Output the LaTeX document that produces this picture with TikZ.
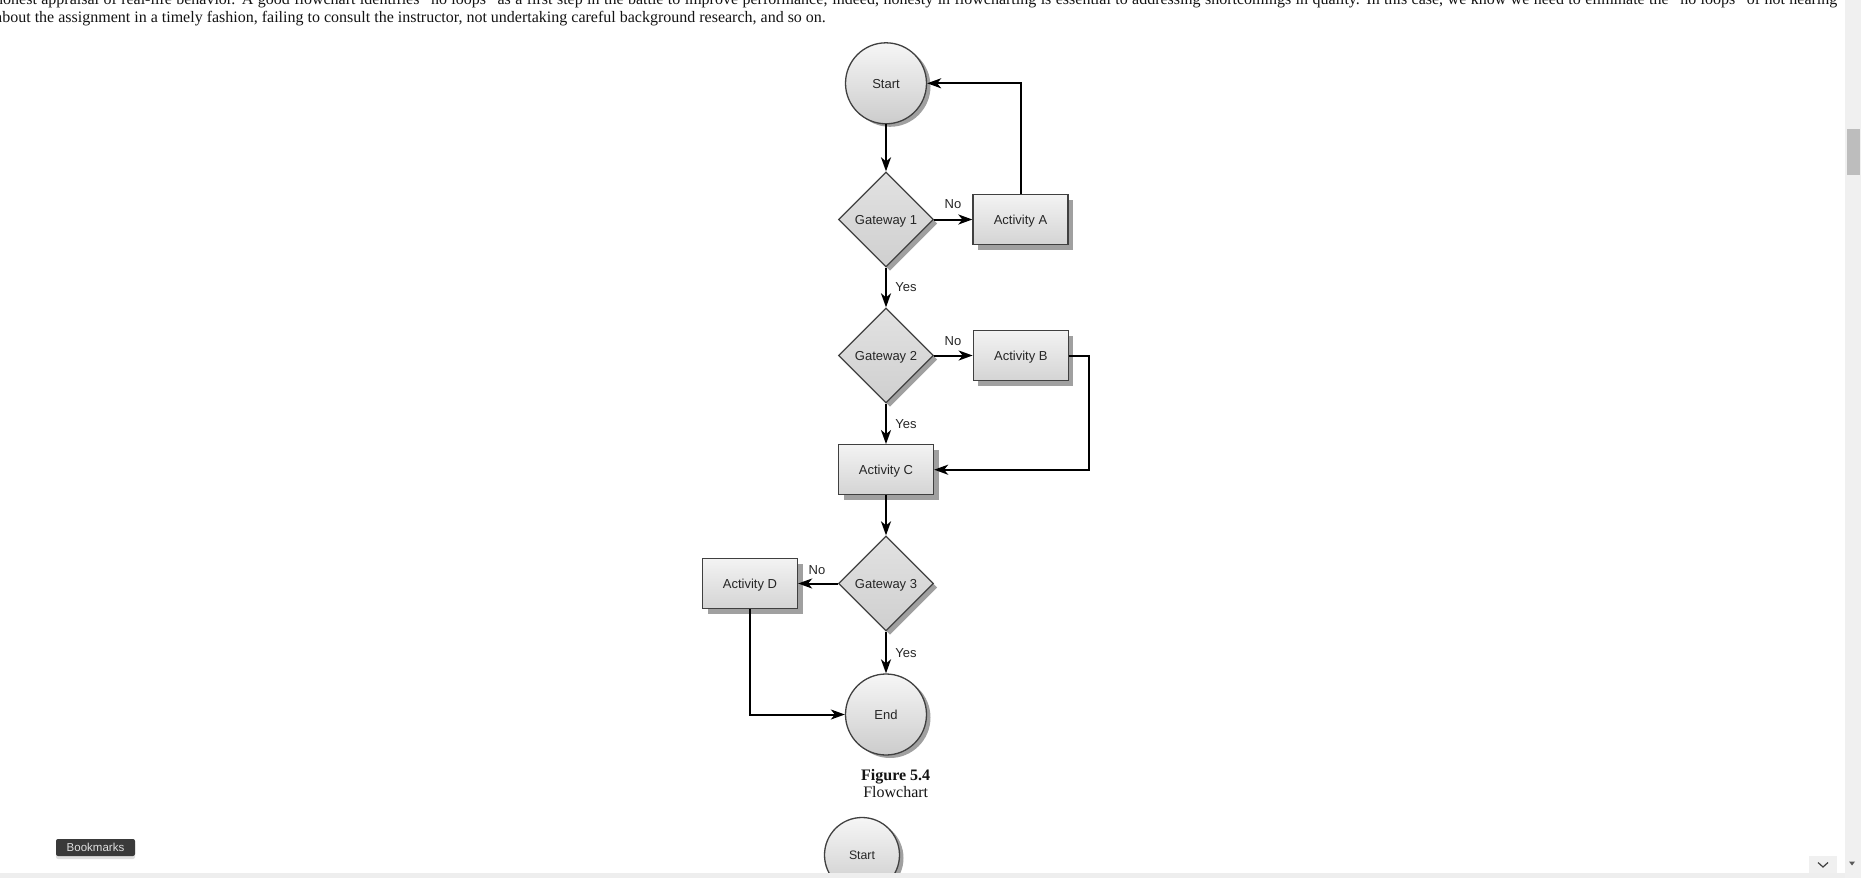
\documentclass[tikz,border=0pt]{standalone}
\usepackage{fontspec}
\setmainfont{Liberation Serif}
\newfontfamily\arialf{Liberation Sans}
\usetikzlibrary{shapes.geometric,shadows,arrows.meta}
\definecolor{ink}{HTML}{262626}
\definecolor{edgecol}{HTML}{404040}
\definecolor{shadecol}{HTML}{A0A0A0}
\definecolor{boxtop}{HTML}{F3F3F3}
\definecolor{boxbot}{HTML}{D4D4D4}
\definecolor{circtop}{HTML}{F6F6F6}
\definecolor{circbot}{HTML}{CCCCCC}
\definecolor{diatop}{HTML}{E2E2E2}
\definecolor{diabot}{HTML}{CFCFCF}
\definecolor{trackcol}{HTML}{F0F0F0}
\definecolor{thumbcol}{HTML}{BDBDBD}
\definecolor{btncol}{HTML}{3A3A3A}
\definecolor{barcol}{HTML}{EEEEEE}
\tikzset{
  dtext/.style={font=\arialf\fontsize{13}{15}\selectfont, text=ink, text height=9.4pt, text depth=0pt},
  terminal/.style={circle, draw=edgecol, line width=1.3pt, minimum size=81pt, inner sep=0pt,
    top color=circtop, bottom color=circbot,
    drop shadow={shadow xshift=4pt, shadow yshift=-3pt, fill=shadecol, opacity=1}, dtext},
  gateway/.style={diamond, aspect=1, draw=edgecol, line width=1.3pt, minimum width=95pt,
    minimum height=95pt, inner sep=0pt, top color=diatop, bottom color=diabot,
    drop shadow={shadow xshift=4pt, shadow yshift=-4pt, fill=shadecol, opacity=1}, dtext},
  activity/.style={rectangle, draw=edgecol, line width=1.3pt, minimum width=95pt, minimum height=50pt,
    inner sep=0pt, top color=boxtop, bottom color=boxbot,
    drop shadow={shadow xshift=5pt, shadow yshift=-5pt, fill=shadecol, opacity=1}, dtext},
  flow/.style={draw=black, line width=2pt, -{Stealth[length=14pt,width=10pt,inset=4pt]}},
  lbl/.style={dtext, inner sep=0pt},
  prose/.style={font=\fontsize{16}{18}\selectfont, inner sep=0pt, text=black!92},
}
\begin{document}
\begin{tikzpicture}[x=1pt,y=-1pt]
\useasboundingbox (0,0) rectangle (1861,878);
\fill[white] (0,0) rectangle (1861,878);
\clip (0,0) rectangle (1861,878);

% page text
\node[prose, anchor=base west] (para1) at (-5,5) {\hbox to 1842pt{honest appraisal of real-life behavior. A good flowchart identifies “no loops” as a first step in the battle to improve performance; indeed, honesty in flowcharting is essential to addressing shortcomings in quality. In this case, we know we need to eliminate the “no loops” of not hearing}};
\node[prose, anchor=base west] (para2) at (-5,23) {about the assignment in a timely fashion, failing to consult the instructor, not undertaking careful background research, and so on.};

% flowchart
\node[terminal] (start) at (886,83.3) {Start};
\node[gateway] (g1) at (886,219.5) {Gateway 1};
\node[activity] (a) at (1020.5,219.5) {Activity A};
\node[gateway] (g2) at (886,355.5) {Gateway 2};
\node[activity] (b) at (1020.8,355.5) {Activity B};
\node[activity] (c) at (886,469.7) {Activity C};
\node[gateway] (g3) at (886,583.5) {Gateway 3};
\node[activity] (d) at (750,583.5) {Activity D};
\node[terminal] (end) at (886,714.5) {End};

\draw[flow] (start) -- (g1);
\draw[flow] (g1) -- (a);
\draw[flow] (a.north) |- (start.east);
\draw[flow] (g1) -- (g2);
\draw[flow] (g2) -- (b);
\draw[flow] (b.east) -- ++(20,0) |- (c.east);
\draw[flow] (g2) -- (c);
\draw[flow] (c) -- (g3);
\draw[flow] (g3) -- (d);
\draw[flow] (g3) -- (end);
\draw[flow] (d.south) |- (end.west);

\node[lbl] (no1) at (953,204) {No};
\node[lbl] (yes1) at (906,287) {Yes};
\node[lbl] (no2) at (953,341) {No};
\node[lbl] (yes2) at (906,424) {Yes};
\node[lbl] (no3) at (817,569.5) {No};
\node[lbl] (yes3) at (906,653) {Yes};

\node[prose, anchor=base, font=\bfseries\fontsize{16}{18}\selectfont] (figno) at (895.7,780) {Figure 5.4};
\node[prose, anchor=base] (figcap) at (895.7,797) {Flowchart};

% next figure, cut off
\node[terminal, minimum size=75pt, font=\arialf\fontsize{12.3}{14}\selectfont] (start2) at (862,855) {Start};

% viewer chrome
\fill[barcol] (0,872.5) rectangle (1861,878);
\fill[trackcol] (1845,0) rectangle (1861,878);
\fill[thumbcol] (1847,129) rectangle (1860,175);
\fill[trackcol] (1809,856) rectangle (1837,872.5);
\draw[black!75, line width=1.2pt] (1818,862.5) -- (1823,867) -- (1828,862.5);
\fill[black!65] (1849,861.5) -- (1855,861.5) -- (1852,865.5) -- cycle;
\node[rounded corners=2pt, fill=btncol, text=white!88!black, minimum width=79pt, minimum height=17pt,
  inner sep=0pt, font=\arialf\fontsize{11.5}{13}\selectfont,
  drop shadow={shadow xshift=0pt, shadow yshift=-3pt, opacity=0.25}] (bm) at (95.5,847.5) {Bookmarks};
\end{tikzpicture}
\end{document}
